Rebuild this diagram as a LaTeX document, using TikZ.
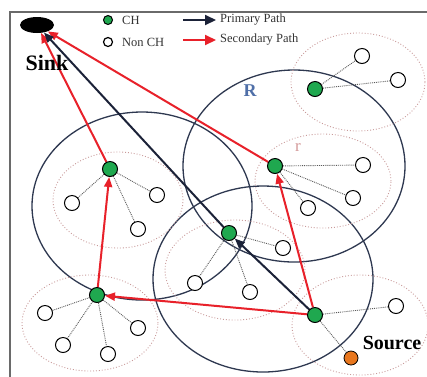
\documentclass[tikz,border=0pt]{standalone}
\usepackage{fontspec}
\setmainfont{Liberation Serif}
\usetikzlibrary{arrows.meta,shapes.geometric}
\pgfdeclarelayer{bg}
\pgfsetlayers{bg,main}
\definecolor{chgreen}{HTML}{1FA84F}
\definecolor{pathred}{HTML}{E8212A}
\definecolor{pathnavy}{HTML}{1B2238}
\definecolor{bignavy}{HTML}{2E3850}
\definecolor{dotpink}{HTML}{C99A9A}
\definecolor{dotgray}{HTML}{5A5A5A}
\definecolor{rblue}{HTML}{4F6FA8}
\definecolor{rpink}{HTML}{D49A9A}
\definecolor{srcorange}{HTML}{E8771E}
\definecolor{framegray}{HTML}{6A6A6A}
\tikzset{
  chnode/.style={circle, draw=black, line width=1pt, fill=chgreen, minimum size=15pt, inner sep=0pt},
  nonch/.style={circle, draw=black, line width=1pt, fill=white, minimum size=15pt, inner sep=0pt},
  srcnode/.style={circle, draw=black, line width=0.8pt, fill=srcorange, minimum size=14pt, inner sep=0pt},
  sinknode/.style={ellipse, fill=black, minimum width=34pt, minimum height=16pt, inner sep=0pt},
  bigcell/.style={draw=bignavy, line width=1.3pt},
  smallcell/.style={draw=dotpink, line width=0.9pt, dotted},
  member/.style={draw=dotgray, line width=0.9pt, densely dotted},
  primary/.style={draw=pathnavy, line width=2pt, -{Triangle[length=10pt,width=8pt]}},
  secondary/.style={draw=pathred, line width=2pt, -{Triangle[length=10pt,width=8pt]}},
  legprim/.style={draw=pathnavy, line width=2pt, -{Triangle[length=11pt,width=10pt]}},
  legsec/.style={draw=pathred, line width=2pt, -{Triangle[length=11pt,width=10pt]}},
  legch/.style={circle, draw=black, line width=1pt, fill=chgreen, minimum size=9pt, inner sep=0pt},
  legnon/.style={circle, draw=black, line width=1.2pt, fill=white, minimum size=9pt, inner sep=0pt},
  legtext/.style={anchor=west, inner sep=0pt, font=\fontsize{12.5}{14}\selectfont, text=black!80},
  bigtext/.style={font=\fontsize{21}{24}\selectfont\bfseries, inner sep=0pt}
}
\begin{document}
\begin{tikzpicture}[x=1pt,y=-1pt]
\useasboundingbox (0,0) rectangle (427,376);

% nodes
\node[sinknode] (sink) at (37,25) {};
\node[bigtext, anchor=center] (sinklbl) at (47,63) {\fontsize{22}{24}\selectfont Sink};
\node[bigtext, anchor=center] (srclbl) at (392,343) {\fontsize{20}{24}\selectfont Source};

\node[chnode] (c1) at (315,89) {};
\node[nonch] (n11) at (362,56) {};
\node[nonch] (n12) at (398,80) {};

\node[chnode] (c2) at (275,166) {};
\node[nonch] (n21) at (363,165) {};
\node[nonch] (n22) at (353,198) {};
\node[nonch] (n23) at (308,208) {};

\node[chnode] (c3) at (110,169) {};
\node[nonch] (n31) at (72,203) {};
\node[nonch] (n32) at (157,195) {};
\node[nonch] (n33) at (138,229) {};

\node[chnode] (c4) at (97,295) {};
\node[nonch] (n41) at (45,313) {};
\node[nonch] (n42) at (63,345) {};
\node[nonch] (n43) at (108,354) {};
\node[nonch] (n44) at (138,328) {};

\node[chnode] (c5) at (229,233) {};
\node[nonch] (n51) at (195,283) {};
\node[nonch] (n52) at (250,292) {};
\node[nonch] (n53) at (283,248) {};

\node[chnode] (c6) at (315,315) {};
\node[nonch] (n61) at (396,306) {};
\node[srcnode] (src) at (351,358) {};

% labels R and r
\node[font=\fontsize{18}{20}\selectfont\bfseries, text=rblue] (Rlbl) at (250,91) {R};
\node[font=\fontsize{17}{20}\selectfont, text=rpink] (rlbl) at (298,147) {r};

% legend
\node[legch] (lch) at (108,20) {};
\node[legtext] (lcht) at (122,20) {CH};
\node[legnon] (lnon) at (108,42) {};
\node[legtext] (lnont) at (122,42) {Non CH};
\coordinate (lp1) at (183,20);
\coordinate (lp2) at (216,20);
\coordinate (ls1) at (183,40);
\coordinate (ls2) at (216,40);
\node[legtext] (lpt) at (220,20) {Primary Path};
\node[legtext] (lst) at (220,40) {Secondary Path};
\draw[legprim] (lp1) -- (lp2);
\draw[legsec] (ls1) -- (ls2);

\begin{pgfonlayer}{bg}
\begin{scope}
\clip (0,0) rectangle (427,376);
\fill[white] (0,0) rectangle (427,376);
% frame
\draw[framegray, line width=2pt] (10,380) -- (10,12) -- (430,12);
% big cells
\draw[bigcell] (142,206) ellipse [x radius=110pt, y radius=94pt];
\draw[bigcell] (294,166) ellipse [x radius=111pt, y radius=96pt];
\draw[bigcell] (263,279) ellipse [x radius=110pt, y radius=93pt];
% small cells
\draw[smallcell] (358,82) ellipse [x radius=67pt, y radius=49pt];
\draw[smallcell] (323,181) ellipse [x radius=68pt, y radius=47pt];
\draw[smallcell] (118,200) ellipse [x radius=65pt, y radius=48pt];
\draw[smallcell] (90,323) ellipse [x radius=68pt, y radius=48pt];
\draw[smallcell] (235,270) ellipse [x radius=70pt, y radius=50pt];
\draw[smallcell] (360,325) ellipse [x radius=68pt, y radius=50pt];
% member links
\draw[member] (c1) -- (n11); \draw[member] (c1) -- (n12);
\draw[member] (c2) -- (n21); \draw[member] (c2) -- (n22); \draw[member] (c2) -- (n23);
\draw[member] (c3) -- (n31); \draw[member] (c3) -- (n32); \draw[member] (c3) -- (n33);
\draw[member] (c4) -- (n41); \draw[member] (c4) -- (n42); \draw[member] (c4) -- (n43); \draw[member] (c4) -- (n44);
\draw[member] (c5) -- (n51); \draw[member] (c5) -- (n52); \draw[member] (c5) -- (n53);
\draw[member] (c6) -- (n61); \draw[member] (c6) -- (src);
% paths
\draw[secondary] (c6) -- (c4);
\draw[secondary] (c4) -- (c3);
\draw[secondary] (c3) -- (sink);
\draw[secondary] (c6) -- (c2);
\draw[secondary] (c2) -- (sink);
\draw[primary] (c6) -- (c5);
\draw[primary] (c5) -- (sink);
\end{scope}
\end{pgfonlayer}
\end{tikzpicture}
\end{document}
